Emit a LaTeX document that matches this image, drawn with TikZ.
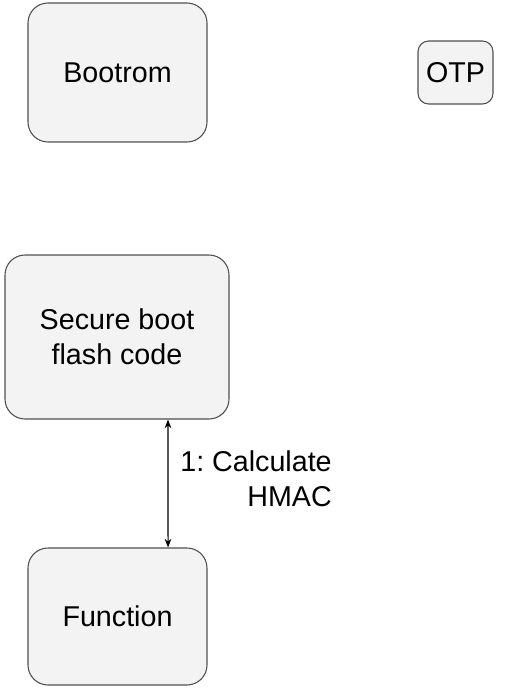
\documentclass[tikz,border=0pt]{standalone}
\usepackage{fontspec}
\setmainfont{Liberation Sans}
\usepackage{tikz}
\usetikzlibrary{arrows.meta}
\definecolor{boxfill}{HTML}{F3F3F3}
\definecolor{boxline}{HTML}{505050}
\frenchspacing

\begin{document}
\begin{tikzpicture}[x=0.75pt,y=-0.75pt,font=\fontsize{21.5}{26}\selectfont,
	block/.style={draw=boxline,fill=boxfill,line width=.8pt,rounded corners=15pt,align=center,inner sep=0pt},
	link/.style={{Stealth[length=6.5pt,width=5pt]}-{Stealth[length=6.5pt,width=5pt]},line width=.8pt}]
	% fix the page
	\useasboundingbox (0,0) rectangle (519,688);
	
	% draw boxes
	\node[block,minimum width=134.25pt,minimum height=104.25pt] (bootrom) at (117.5,72.5) {Bootrom};
	\node[block,minimum width=56.25pt,minimum height=47.25pt,rounded corners=8pt] (otp) at (455.5,72.5) {OTP};
	\node[block,minimum width=168pt,minimum height=123pt] (secure) at (117,337) {Secure boot\\flash code};
	\node[block,minimum width=134.25pt,minimum height=102.75pt] (function) at (117.5,616.5) {Function};
	
	% draw arrow and label
	\draw[link] ([xshift=38.25pt]secure.south) -- ([xshift=37.9pt]function.north);
	\node[anchor=east,align=right,inner sep=0pt] (hmac) at (332,479) {1: Calculate\\HMAC};
\end{tikzpicture}
\end{document}
